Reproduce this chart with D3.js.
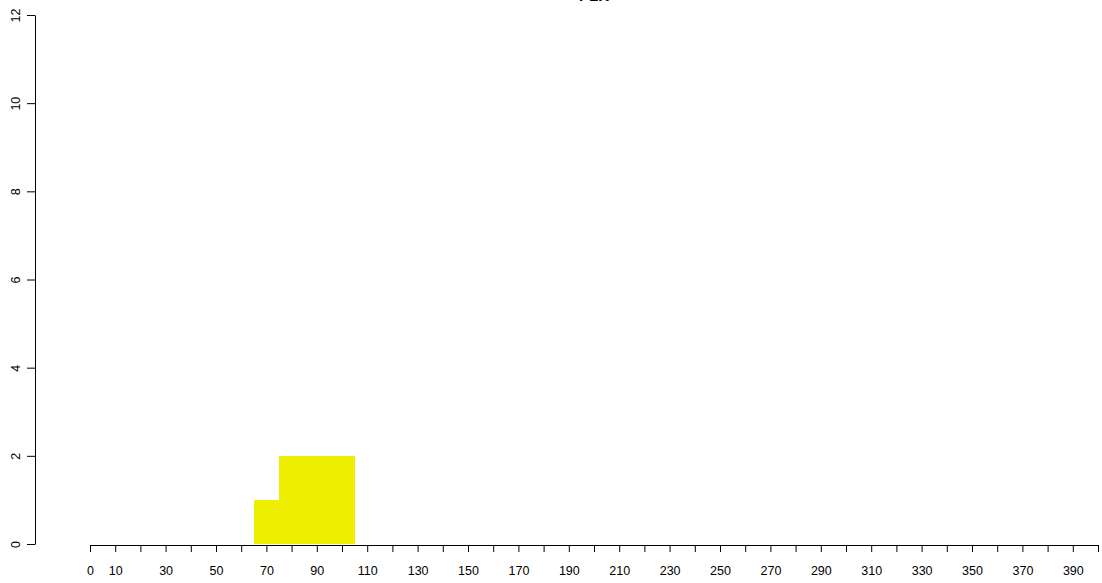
<!DOCTYPE html>
<html>
<head>
<meta charset="utf-8">
<script src="https://cdn.jsdelivr.net/npm/d3@7"></script>
<style>
  body { margin: 0; background: #fff; }
  text { font-family: "Liberation Sans", Arial, sans-serif; }
</style>
</head>
<body>
<svg id="chart" width="1102" height="583"></svg>
<script>
// histogram bins (left edge, right edge, count)
const binStarts = [65, 75, 85, 95]
const binEnds = [75, 85, 95, 105]
const counts = [1, 2, 2, 2]

const xTicks = d3.range(0, 401, 10)
const xLabels = [0, 10, 30, 50, 70, 90, 110, 130, 150, 170, 190, 210, 230, 250,
    270, 290, 310, 330, 350, 370, 390]
const yTicks = [0, 2, 4, 6, 8, 10, 12]
const title = "PLK"

const svg = d3.select("#chart")

const x = d3.scaleLinear().domain([0, 400]).range([90, 1098])
const y = d3.scaleLinear().domain([0, 12]).range([544, 15])

// title sits mostly above the top edge, as in the original
svg.append("text")
    .attr("x", (x(0) + x(400)) / 2)
    .attr("y", 1)
    .attr("text-anchor", "middle")
    .style("font-weight", "bold")
    .style("font-size", "15px")
    .text(title)

svg.append("g")
    .selectAll("rect")
    .data(counts)
    .enter()
    .append("rect")
    .attr("x", (d, i) => x(binStarts[i]))
    .attr("width", (d, i) => x(binEnds[i]) - x(binStarts[i]) + 0.5)
    .attr("y", d => y(d))
    .attr("height", d => y(0) - y(d))
    .attr("fill", "#eeee00")
    .attr("shape-rendering", "crispEdges")

// x axis
const xAxis = svg.append("g")
    .attr("transform", "translate(0,545)")
    .call(d3.axisBottom(x).tickValues(xTicks).tickSize(7).tickSizeOuter(0)
        .tickFormat(d => xLabels.includes(d) ? d : ""))
xAxis.select(".domain").attr("stroke", "#000")
xAxis.selectAll(".tick line").attr("stroke", "#000")
xAxis.selectAll("text")
    .attr("dy", null)
    .attr("y", 30)
    .style("font-size", "12.5px")
    .attr("fill", "#000")

// y axis
const yAxis = svg.append("g")
    .attr("transform", "translate(35,0)")
    .call(d3.axisLeft(y).tickValues(yTicks).tickSize(8).tickSizeOuter(0))
yAxis.select(".domain").attr("stroke", "#000")
yAxis.selectAll(".tick line").attr("stroke", "#000")
yAxis.selectAll("text")
    .attr("x", null)
    .attr("dy", null)
    .attr("text-anchor", "middle")
    .attr("transform", "translate(-19,0) rotate(-90)")
    .attr("y", 0)
    .attr("dominant-baseline", "central")
    .style("font-size", "12.5px")
    .attr("fill", "#000")
</script>
</body>
</html>
